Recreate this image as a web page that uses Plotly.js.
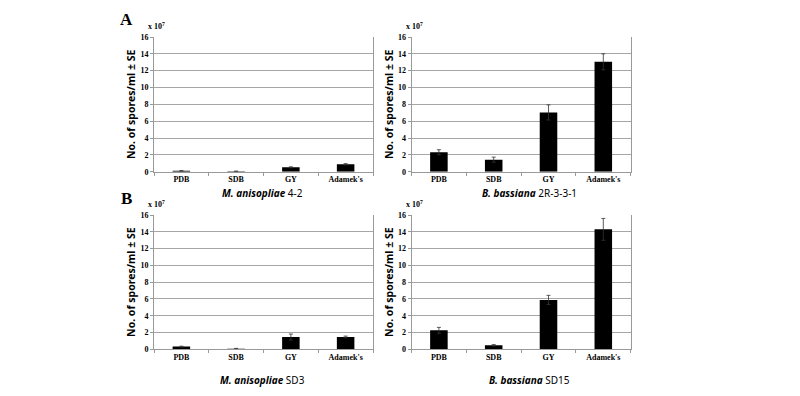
<!DOCTYPE html>
<html>
<head>
<meta charset="utf-8">
<script src="https://cdn.plot.ly/plotly-3.0.1.min.js"></script>
<style>html,body{margin:0;padding:0;background:#fff;}#chart{width:800px;height:396px;}</style>
</head>
<body>
<div id="chart"></div>
<script>
// Data (units: x 10^7 spores/ml)
const media = ["PDB", "SDB", "GY", "Adamek's"];
const ma42Values = [0.10, 0.05, 0.52, 0.88];
const ma42Errors = [0.03, 0.02, 0.06, 0.08];
const bb2rValues = [2.31, 1.43, 7.04, 13.05];
const bb2rErrors = [0.30, 0.30, 0.90, 0.95];
const maSD3Values = [0.32, 0.08, 1.47, 1.47];
const maSD3Errors = [0.05, 0.03, 0.35, 0.10];
const bbSD15Values = [2.26, 0.48, 5.88, 14.29];
const bbSD15Errors = [0.35, 0.08, 0.55, 1.30];
const panelTitles = ["M. anisopliae", "B. bassiana", "M. anisopliae", "B. bassiana"];
const strainNames = ["4-2", "2R-3-3-1", "SD3", "SD15"];
const panelLetters = ["A", "B"];
const yTitle = "No. of spores/ml ± SE";

const series = [
  [ma42Values, ma42Errors],
  [bb2rValues, bb2rErrors],
  [maSD3Values, maSD3Errors],
  [bbSD15Values, bbSD15Errors]
];

const W = 800, H = 396;
const xDomainsPx = [[154, 373], [411.5, 630.7]];
const yDomainsPx = [[37, 171.7], [215, 349.3]];
const toX = p => p / W;
const toY = p => 1 - p / H;

const traces = [];
const layout = {
  width: W, height: H,
  margin: {l: 0, r: 0, t: 0, b: 0},
  paper_bgcolor: "#fff", plot_bgcolor: "#fff",
  showlegend: false,
  bargap: 0.68,
  annotations: []
};

const tickFont = {family: "Liberation Serif, serif", size: 8, color: "#000", weight: "bold"};

series.forEach((s, i) => {
  const row = Math.floor(i / 2), col = i % 2;
  const n = i + 1;
  const xa = "x" + (n === 1 ? "" : n), ya = "y" + (n === 1 ? "" : n);
  traces.push({
    type: "bar",
    x: media, y: s[0],
    xaxis: xa, yaxis: ya,
    marker: {color: "#000", line: {color: "#000", width: 0}},
    error_y: {type: "data", array: s[1], visible: true, color: "#333", thickness: 0.8, width: 2}
  });
  const xd = xDomainsPx[col], yd = yDomainsPx[row];
  layout["xaxis" + (n === 1 ? "" : n)] = {
    domain: [toX(xd[0]), toX(xd[1])],
    anchor: ya,
    type: "category",
    showline: true, linecolor: "#999", linewidth: 1,
    ticks: "outside", tickson: "boundaries", ticklen: 3, tickcolor: "#999",
    tickfont: tickFont,
    showgrid: false, zeroline: false,
    fixedrange: true
  };
  layout["yaxis" + (n === 1 ? "" : n)] = {
    domain: [toY(yd[1]), toY(yd[0])],
    anchor: xa,
    range: [0, 16], dtick: 2, tick0: 0,
    showline: true, linecolor: "#999", linewidth: 1, mirror: true,
    ticks: "outside", ticklen: 3, tickcolor: "#999",
    tickfont: tickFont,
    showgrid: true, gridcolor: "#a6a6a6", gridwidth: 1,
    zeroline: false,
    title: {text: yTitle, font: {family: "Noto Sans, DejaVu Sans, sans-serif", size: 10.5, color: "#000", weight: "bold"}, standoff: 2},
    fixedrange: true
  };
  // x 10^7 label
  layout.annotations.push({
    xref: "paper", yref: "paper",
    x: toX(xd[0] - 8), y: toY(yd[0] - 11),
    xanchor: "left", yanchor: "middle", showarrow: false,
    text: "x 10<sup>7</sup>",
    font: {family: "Liberation Serif, serif", size: 8, color: "#000", weight: "bold"}
  });
  // panel subtitle
  const subY = row === 0 ? 193 : 380;
  const subX = col === 0 ? 262 : 529;
  layout.annotations.push({
    xref: "paper", yref: "paper",
    x: toX(subX), y: toY(subY),
    xanchor: "center", yanchor: "middle", showarrow: false,
    text: "<b><i>" + panelTitles[i] + "</i></b> " + strainNames[i],
    font: {family: "Noto Sans, DejaVu Sans, sans-serif", size: 10, color: "#000"}
  });
});

panelLetters.forEach((L, r) => {
  layout.annotations.push({
    xref: "paper", yref: "paper",
    x: toX(126), y: toY(r === 0 ? 20 : 198),
    xanchor: "center", yanchor: "middle", showarrow: false,
    text: "<b>" + L + "</b>",
    font: {family: "Liberation Serif, serif", size: 17, color: "#000"}
  });
});

Plotly.newPlot("chart", traces, layout, {staticPlot: true, displayModeBar: false});
</script>
</body>
</html>
